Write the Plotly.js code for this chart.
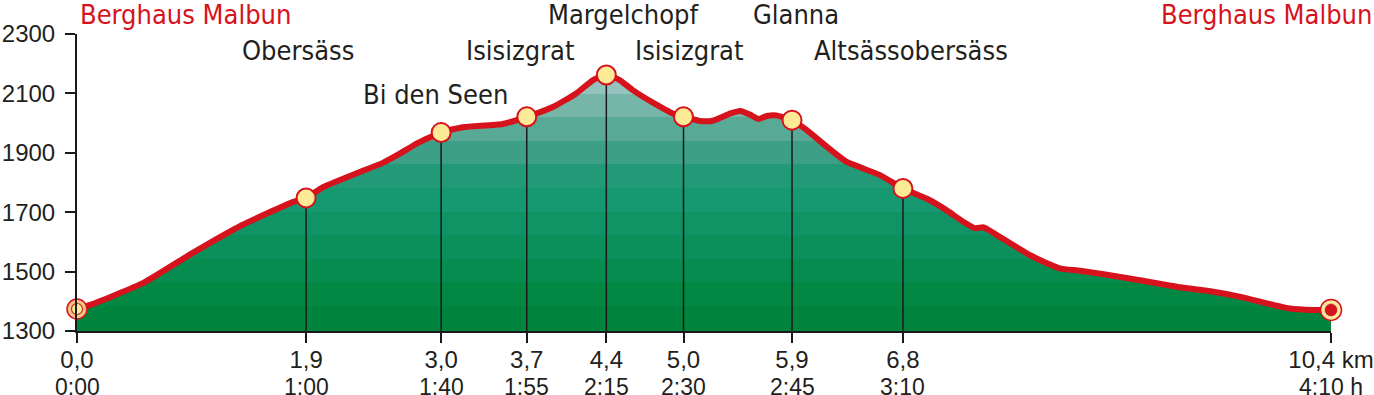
<!DOCTYPE html>
<html>
<head>
<meta charset="utf-8">
<script src="https://cdn.plot.ly/plotly-3.0.1.min.js"></script>
<style>html,body{margin:0;padding:0;background:#fff;}#chart{width:1374px;height:395px;}</style>
</head>
<body>
<div id="chart"></div>
<script>
// Elevation profile (km, m)
const profileKm = [0, 0.11, 0.55, 0.96, 1.37, 1.79, 1.9, 2.04, 2.32, 2.54, 2.68, 2.82, 3.02, 3.2, 3.53, 3.73, 3.95, 4.14, 4.28, 4.39, 4.5, 4.61, 4.78, 4.97, 5.03, 5.17, 5.27, 5.42, 5.5, 5.58, 5.65, 5.72, 5.8, 5.93, 6.05, 6.22, 6.38, 6.66, 6.85, 7.07, 7.21, 7.35, 7.45, 7.52, 7.63, 7.9, 8.15, 8.32, 8.73, 9.15, 9.4, 9.65, 9.92, 10.06, 10.25, 10.4];
const profileElev = [1374, 1388, 1462, 1563, 1657, 1734, 1748, 1784, 1831, 1867, 1898, 1932, 1968, 1986, 1997, 2021, 2055, 2100, 2145, 2162, 2145, 2111, 2068, 2027, 2021, 2007, 2008, 2033, 2041, 2029, 2014, 2024, 2026, 2010, 1977, 1920, 1870, 1825, 1780, 1741, 1707, 1668, 1646, 1649, 1623, 1556, 1511, 1503, 1477, 1447, 1434, 1415, 1388, 1376, 1371, 1371];

// Waypoints
const wpKm = [0, 1.9, 3.02, 3.73, 4.39, 5.03, 5.93, 6.85, 10.4];
const wpElev = [1374, 1748, 1968, 2021, 2162, 2021, 2010, 1780, 1371];
const distLabels = ["0,0", "1,9", "3,0", "3,7", "4,4", "5,0", "5,9", "6,8", "10,4 km"];
const timeLabels = ["0:00", "1:00", "1:40", "1:55", "2:15", "2:30", "2:45", "3:10", "4:10 h"];

// Place names and their label anchor positions (km) / label rows
const placeNames = ["Berghaus Malbun", "Obersäss", "Bi den Seen", "Isisizgrat", "Margelchopf", "Isisizgrat", "Glanna", "Altsässobersäss", "Berghaus Malbun"];
const placeLabelKm = [0, 1.835, 2.97, 3.676, 4.535, 5.08, 5.96, 6.92, 10.4];
const placeLabelRow = [0, 1, 2, 1, 0, 1, 0, 1, 0];
const placeIsEnd = [true, false, false, false, false, false, false, false, true];

// Elevation axis ticks
const yTicks = [1300, 1500, 1700, 1900, 2100, 2300];

// Band colours of the fill (bottom to top) and band edges (m)
const bandColors = ["#00833d", "#038843", "#068c4f", "#0b905b", "#109466", "#169870", "#229a78", "#3c9f86", "#58aa96", "#76b6a9", "#94c2bc", "#afcfd4"];
const bandEdges = [1300, 1384, 1464, 1543, 1622, 1702, 1781, 1861, 1940, 2020, 2099, 2179, 2330];

const RED = "#d6121c";
const INK = "#231f20";
const labelFont = "Liberation Sans Narrow, DejaVu Sans Condensed, Arial Narrow, Liberation Sans, sans-serif";
const tickFont = "Liberation Sans, Arial, sans-serif";
const rowPaperY = [1.067, 0.943, 0.795];

// stepped colorscale
const lo = bandEdges[0], hi = bandEdges[bandEdges.length - 1];
const cs = [];
for (let i = 0; i < bandColors.length; i++) {
  const a = (bandEdges[i] - lo) / (hi - lo);
  const b = (bandEdges[i + 1] - lo) / (hi - lo);
  cs.push([a, bandColors[i]]);
  cs.push([b, bandColors[i]]);
}

// drop lines for interior waypoints
const dropX = [], dropY = [];
for (let i = 1; i < wpKm.length - 1; i++) {
  dropX.push(wpKm[i], wpKm[i], null);
  dropY.push(wpElev[i], yTicks[0], null);
}

const n = wpKm.length;
const traces = [
  {
    x: profileKm, y: profileElev, type: "scatter", mode: "none",
    fill: "tozeroy",
    fillgradient: {type: "vertical", colorscale: cs, start: lo, stop: hi},
    hoverinfo: "skip"
  },
  {
    x: dropX, y: dropY, type: "scatter", mode: "lines",
    line: {color: "#1a1a1a", width: 1.5}, hoverinfo: "skip"
  },
  {
    x: profileKm, y: profileElev, type: "scatter", mode: "lines",
    line: {color: RED, width: 6, shape: "spline", smoothing: 0.5}, hoverinfo: "skip"
  },
  // start marker (outer ring + inner dot)
  {
    x: [wpKm[0]], y: [wpElev[0]], type: "scatter", mode: "markers", cliponaxis: false,
    marker: {size: 20, color: "#f6c283", line: {color: RED, width: 1.5}}, hoverinfo: "skip"
  },
  {
    x: [wpKm[0]], y: [wpElev[0]], type: "scatter", mode: "markers", cliponaxis: false,
    marker: {size: 11, color: "#fde99a", line: {color: "#b5331e", width: 1.2}}, hoverinfo: "skip"
  },
  // intermediate markers
  {
    x: wpKm.slice(1, n - 1), y: wpElev.slice(1, n - 1), type: "scatter", mode: "markers", cliponaxis: false,
    marker: {size: 19, color: "#fdea97", line: {color: RED, width: 2}}, hoverinfo: "skip"
  },
  // end marker
  {
    x: [wpKm[n - 1]], y: [wpElev[n - 1]], type: "scatter", mode: "markers", cliponaxis: false,
    marker: {size: 21, color: "#fde79c", line: {color: RED, width: 1.5}}, hoverinfo: "skip"
  },
  {
    x: [wpKm[n - 1]], y: [wpElev[n - 1]], type: "scatter", mode: "markers", cliponaxis: false,
    marker: {size: 12, color: RED, line: {color: "#b01018", width: 0.5}}, hoverinfo: "skip"
  }
];

const annotations = placeNames.map((name, i) => {
  const isEnd = placeIsEnd[i];
  let xanchor = "center", xshift = 0;
  if (isEnd && i === 0) { xanchor = "left"; xshift = 1; }
  if (isEnd && i === placeNames.length - 1) { xanchor = "right"; xshift = 43; }
  return {
    x: placeLabelKm[i], y: rowPaperY[placeLabelRow[i]], xref: "x", yref: "paper",
    text: name, showarrow: false, xanchor: xanchor, yanchor: "middle", xshift: xshift,
    font: {family: labelFont, size: 27, color: isEnd ? RED : INK}
  };
});

// walking-time row under the distance labels
timeLabels.forEach((t, i) => {
  annotations.push({
    x: wpKm[i], y: -0.137, xref: "x", yref: "paper",
    text: t, showarrow: false, xanchor: "center", yanchor: "top",
    font: {family: tickFont, size: 23, color: INK}
  });
});

const layout = {
  width: 1374, height: 395,
  margin: {l: 77, r: 43, t: 34, b: 64, pad: 0},
  paper_bgcolor: "#ffffff", plot_bgcolor: "#ffffff",
  showlegend: false,
  xaxis: {
    range: [0, 10.4], showgrid: false, zeroline: false,
    showline: true, linecolor: "#1a1a1a", linewidth: 2,
    ticks: "outside", ticklen: 10, tickwidth: 2, tickcolor: "#1a1a1a",
    tickvals: wpKm, ticktext: distLabels, ticklabelstandoff: -4,
    tickfont: {family: tickFont, size: 24, color: INK},
    fixedrange: true
  },
  yaxis: {
    range: [1300, 2300], showgrid: false, zeroline: false,
    showline: true, linecolor: "#1a1a1a", linewidth: 2,
    ticks: "outside", ticklen: 10, tickwidth: 2, tickcolor: "#1a1a1a",
    tickvals: yTicks, ticktext: yTicks.map(String), ticklabelstandoff: 5,
    tickfont: {family: tickFont, size: 24, color: INK},
    fixedrange: true
  },
  annotations: annotations
};

Plotly.newPlot("chart", traces, layout, {displayModeBar: false, staticPlot: true});
</script>
</body>
</html>
